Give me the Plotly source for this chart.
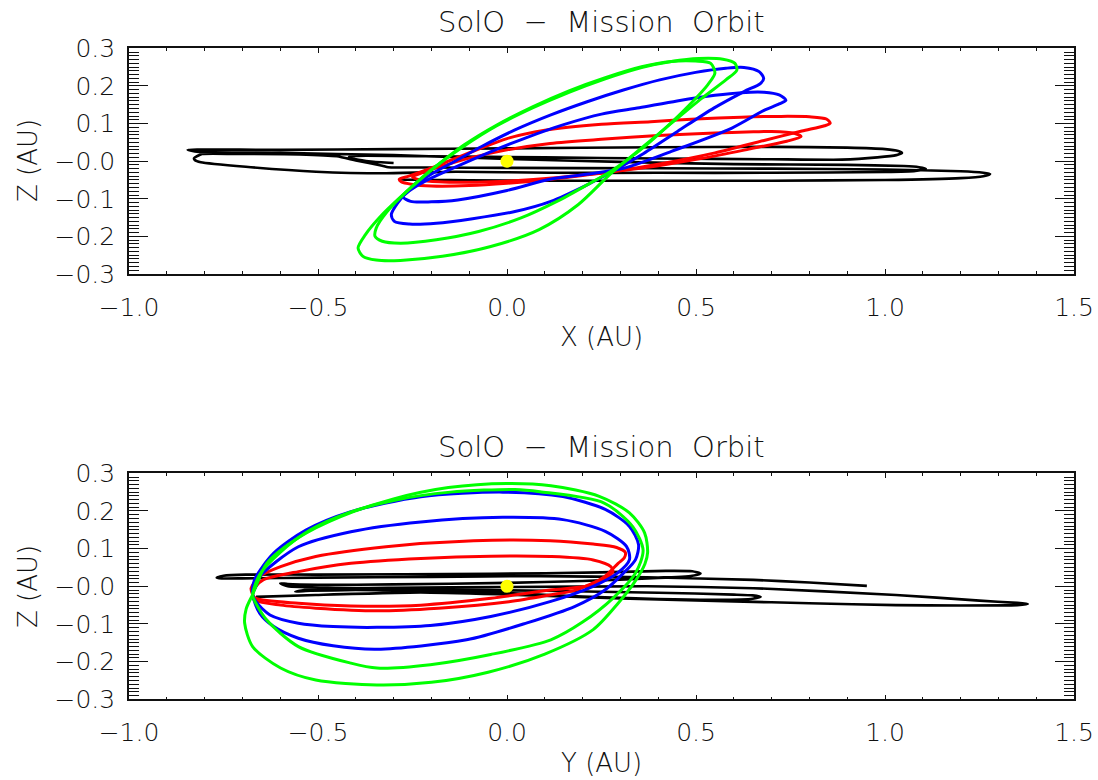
import plotly.graph_objects as go

# ---------------- data (AU) ----------------
# Top panel: X-Z projection
top_black_x = [-0.30, -0.36, -0.40, -0.418, -0.40, -0.2, 0.1, 0.4, 0.7, 0.886, 0.98, 1.03, 1.045,
               1.035, 1.0, 0.9, 0.7, 0.4, 0.0, -0.3, -0.6, -0.82, -0.845,
               -0.82, -0.6, -0.3, 0.0, 0.3, 0.6, 0.9, 1.05, 1.09, 1.108,
               1.08, 1.0, 0.7, 0.4, 0.114, -0.135, -0.32, -0.505, -0.691, -0.81, -0.826, -0.828,
               -0.807, -0.7, -0.55, -0.45, -0.40, -0.33, -0.314, -0.2, 0.0, 0.4, 0.7, 1.0, 1.2, 1.26, 1.278,
               1.26, 1.2, 1.0, 0.7, 0.4, 0.1, -0.1, -0.2, -0.27, -0.285]
top_black_z = [-0.005, -0.001, 0.005, 0.011, 0.014, 0.013, 0.010, 0.007, 0.005, 0.004, 0.010, 0.016, 0.022,
               0.027, 0.032, 0.036, 0.038, 0.037, 0.034, 0.032, 0.030, 0.031, 0.030,
               0.025, 0.022, 0.016, 0.006, -0.002, -0.008, -0.010, -0.013, -0.016, -0.020,
               -0.026, -0.029, -0.031, -0.031, -0.031, -0.028, -0.032, -0.028, -0.015, -0.003, 0.003, 0.008,
               0.019, 0.019, 0.018, 0.013, 0.002, -0.012, -0.016, -0.017, -0.018, -0.019, -0.020, -0.022, -0.027, -0.031, -0.034,
               -0.040, -0.045, -0.050, -0.052, -0.052, -0.052, -0.051, -0.050, -0.049, -0.048]

top_red1_x = [-0.285, -0.28, -0.25, -0.20, -0.10, 0.0, 0.10, 0.20, 0.276, 0.40, 0.55, 0.68, 0.78, 0.84, 0.855,
              0.845, 0.80, 0.72, 0.62, 0.50, 0.38, 0.25, 0.10, 0.0, -0.08, -0.15, -0.21, -0.26, -0.285]
top_red1_z = [-0.048, -0.055, -0.062, -0.066, -0.065, -0.059, -0.050, -0.038, -0.028, -0.008, 0.022, 0.055, 0.080, 0.094, 0.101,
              0.112, 0.118, 0.119, 0.117, 0.112, 0.105, 0.098, 0.082, 0.060, 0.030, 0.002, -0.022, -0.040, -0.048]
top_red2_x = [-0.25, -0.23, -0.18, -0.08, 0.02, 0.12, 0.20, 0.276, 0.40, 0.52, 0.64, 0.74, 0.778,
              0.76, 0.70, 0.652, 0.55, 0.40, 0.25, 0.114, 0.0, -0.10, -0.18, -0.23, -0.25]
top_red2_z = [-0.042, -0.050, -0.055, -0.056, -0.052, -0.045, -0.037, -0.028, -0.012, 0.008, 0.032, 0.053, 0.065,
              0.074, 0.079, 0.078, 0.075, 0.068, 0.058, 0.047, 0.030, 0.008, -0.016, -0.033, -0.042]

top_blue1_x = [0.679, 0.667, 0.627, 0.579, 0.499, 0.404, 0.308, 0.212, 0.116, 0.021, -0.067, -0.139, -0.203, -0.258, -0.290,
               -0.306, -0.298, -0.258, -0.187, -0.091, 0.021, 0.116, 0.212, 0.276, 0.356, 0.451, 0.547, 0.627, 0.671, 0.679]
top_blue1_z = [0.220, 0.238, 0.249, 0.247, 0.236, 0.216, 0.189, 0.158, 0.123, 0.083, 0.039, -0.001, -0.036, -0.076, -0.112,
               -0.142, -0.160, -0.167, -0.165, -0.153, -0.134, -0.107, -0.063, -0.029, 0.017, 0.079, 0.141, 0.185, 0.207, 0.220]
top_blue2_x = [0.738, 0.72, 0.68, 0.62, 0.55, 0.45, 0.35, 0.25, 0.15, 0.05, -0.05, -0.15, -0.22, -0.26, -0.275,
               -0.255, -0.20, -0.13, 0.0, 0.114, 0.21, 0.308, 0.435, 0.595, 0.68, 0.72, 0.738]
top_blue2_z = [0.162, 0.176, 0.183, 0.182, 0.175, 0.160, 0.142, 0.125, 0.097, 0.062, 0.022, -0.022, -0.055, -0.080, -0.095,
               -0.107, -0.108, -0.103, -0.078, -0.048, -0.035, -0.019, 0.026, 0.088, 0.135, 0.152, 0.162]

top_green1_x = [0.603, 0.571, 0.507, 0.435, 0.356, 0.260, 0.164, 0.069, -0.027, -0.115, -0.195, -0.266, -0.330, -0.375, -0.394,
                -0.381, -0.346, -0.282, -0.171, -0.043, 0.085, 0.188, 0.276, 0.356, 0.435, 0.515, 0.579, 0.608, 0.603]
top_green1_z = [0.260, 0.271, 0.273, 0.265, 0.249, 0.219, 0.183, 0.142, 0.094, 0.039, -0.019, -0.081, -0.142, -0.196, -0.231,
                -0.253, -0.263, -0.264, -0.253, -0.227, -0.182, -0.116, -0.032, 0.035, 0.101, 0.167, 0.216, 0.242, 0.260]
top_green2_x = [0.539, 0.499, 0.435, 0.356, 0.260, 0.164, 0.069, -0.027, -0.115, -0.199, -0.266, -0.317, -0.346, -0.349,
                -0.330, -0.282, -0.187, -0.075, 0.037, 0.132, 0.212, 0.276, 0.348, 0.419, 0.483, 0.531, 0.550, 0.539]
top_green2_z = [0.260, 0.266, 0.265, 0.251, 0.222, 0.187, 0.145, 0.096, 0.042, -0.023, -0.081, -0.134, -0.178, -0.200,
                -0.213, -0.218, -0.209, -0.187, -0.151, -0.107, -0.063, -0.026, 0.026, 0.088, 0.150, 0.203, 0.234, 0.260]

# Bottom panel: Y-Z projection
bot_black_y = [0.952, 0.80, 0.652, 0.37, 0.087, -0.2, -0.5, -0.70, -0.755, -0.768,
               -0.75, -0.691, -0.506, -0.042, 0.25, 0.42, 0.49, 0.512,
               0.49, 0.40, 0.2, 0.0, -0.3, -0.5, -0.58, -0.60,
               -0.58, -0.45, -0.2, 0.1, 0.4, 0.6, 0.65, 0.671,
               0.65, 0.558, 0.4, 0.2, 0.0, -0.2, -0.4, -0.52, -0.56,
               -0.52, -0.3, 0.0, 0.37, 0.652, 1.029, 1.25, 1.35, 1.378,
               1.35, 1.2, 1.029, 0.8, 0.6, 0.3, 0.0, -0.228, -0.506, -0.664]
bot_black_z = [0.001, 0.010, 0.017, 0.024, 0.027, 0.025, 0.023, 0.021, 0.021, 0.023,
               0.028, 0.031, 0.031, 0.033, 0.037, 0.041, 0.040, 0.034,
               0.028, 0.022, 0.014, 0.009, 0.005, 0.004, 0.006, 0.008,
               0.0, -0.004, -0.008, -0.012, -0.017, -0.022, -0.024, -0.028,
               -0.033, -0.036, -0.034, -0.027, -0.018, -0.012, -0.010, -0.012, -0.014,
               -0.008, -0.004, -0.002, 0.000, -0.005, -0.023, -0.038, -0.044, -0.047,
               -0.050, -0.051, -0.050, -0.045, -0.040, -0.032, -0.022, -0.016, -0.023, -0.028]

bot_red1_y = [-0.673, -0.677, -0.654, -0.599, -0.506, -0.320, -0.088, 0.114, 0.228, 0.290, 0.313, 0.310, 0.294, 0.257,
              0.182, 0.114, 0.005, -0.181, -0.344, -0.506, -0.599, -0.669, -0.673]
bot_red1_z = [-0.022, -0.005, 0.026, 0.052, 0.079, 0.105, 0.121, 0.121, 0.112, 0.103, 0.090, 0.075, 0.061, 0.025,
              -0.010, -0.023, -0.041, -0.058, -0.065, -0.058, -0.050, -0.036, -0.022]
bot_red2_y = [-0.673, -0.664, -0.645, -0.552, -0.413, -0.228, -0.042, 0.114, 0.228, 0.275, 0.280, 0.266, 0.22,
              0.114, -0.042, -0.228, -0.413, -0.552, -0.664, -0.673]
bot_red2_z = [-0.022, 0.0, 0.017, 0.039, 0.061, 0.074, 0.080, 0.079, 0.070, 0.052, 0.038, 0.025, 0.002,
              -0.010, -0.032, -0.050, -0.052, -0.045, -0.032, -0.022]

bot_blue1_y = [-0.673, -0.668, -0.617, -0.532, -0.413, -0.228, -0.011, 0.148, 0.260, 0.324, 0.348, 0.340, 0.308, 0.260,
               0.180, 0.053, -0.107, -0.344, -0.460, -0.552, -0.617, -0.654, -0.673]
bot_blue1_z = [-0.022, 0.017, 0.088, 0.149, 0.198, 0.238, 0.250, 0.238, 0.204, 0.159, 0.111, 0.071, 0.035, -0.009,
               -0.053, -0.097, -0.142, -0.167, -0.158, -0.138, -0.107, -0.072, -0.022]
bot_blue2_y = [-0.673, -0.664, -0.654, -0.552, -0.413, -0.228, -0.011, 0.148, 0.260, 0.316, 0.324, 0.292, 0.228,
               0.116, -0.043, -0.203, -0.344, -0.460, -0.552, -0.627, -0.664, -0.673]
bot_blue2_z = [-0.022, 0.0, 0.026, 0.105, 0.145, 0.171, 0.183, 0.177, 0.146, 0.106, 0.071, 0.035, 0.0,
               -0.040, -0.080, -0.104, -0.109, -0.107, -0.098, -0.076, -0.041, -0.022]

bot_green1_y = [-0.673, -0.636, -0.55, -0.44, -0.30, -0.155, 0.0, 0.116, 0.244, 0.324, 0.364, 0.372, 0.365, 0.34,
                0.294, 0.228, 0.10, -0.05, -0.2, -0.344, -0.506, -0.599, -0.673, -0.694, -0.69, -0.673]
bot_green1_z = [-0.022, 0.06, 0.13, 0.185, 0.232, 0.262, 0.273, 0.267, 0.239, 0.195, 0.142, 0.09, 0.06, 0.015,
                -0.045, -0.115, -0.180, -0.228, -0.255, -0.262, -0.249, -0.217, -0.160, -0.098, -0.06, -0.022]
bot_green2_y = [-0.673, -0.655, -0.60, -0.52, -0.42, -0.30, -0.15, 0.021, 0.087, 0.257, 0.333, 0.360, 0.340, 0.28,
                0.20, 0.116, -0.043, -0.203, -0.344, -0.413, -0.552, -0.636, -0.669, -0.673]
bot_green2_z = [-0.022, 0.03, 0.09, 0.15, 0.195, 0.228, 0.250, 0.257, 0.251, 0.221, 0.158, 0.096, 0.035, -0.032,
                -0.095, -0.142, -0.181, -0.208, -0.217, -0.204, -0.160, -0.089, -0.036, -0.022]

sun_pos = [0.0]

x_tickvals = [-1.0, -0.5, 0.0, 0.5, 1.0, 1.5]
x_ticktext = ["\u22121.0", "\u22120.5", "0.0", "0.5", "1.0", "1.5"]
z_tickvals = [-0.3, -0.2, -0.1, 0.0, 0.1, 0.2, 0.3]
z_ticktext = ["\u22120.3", "\u22120.2", "\u22120.1", "\u22120.0", "0.1", "0.2", "0.3"]

title_text = "SolO\u00a0\u00a0\u2212\u00a0\u00a0Mission\u00a0\u00a0Orbit"

# ---------------- figure ----------------
FONT = "DejaVu Sans"
WT = 200
TXT = "#111111"
fig = go.Figure()


def join(a, b):
    return a + [None] + b


def add_path(xs, ys, color, xa, ya, width=3.0, smooth=0.8):
    fig.add_trace(go.Scatter(x=xs, y=ys, mode="lines", xaxis=xa, yaxis=ya, connectgaps=False,
                             line=dict(color=color, width=width, shape="spline", smoothing=smooth),
                             showlegend=False, hoverinfo="skip"))


# top
add_path(top_black_x, top_black_z, "black", "x", "y", 2.6, 0.5)
add_path(join(top_red1_x, top_red2_x), join(top_red1_z, top_red2_z), "#ff0000", "x", "y")
add_path(join(top_blue1_x, top_blue2_x), join(top_blue1_z, top_blue2_z), "#0000ff", "x", "y")
add_path(join(top_green1_x, top_green2_x), join(top_green1_z, top_green2_z), "#00ff00", "x", "y")
fig.add_trace(go.Scatter(x=sun_pos, y=sun_pos, mode="markers", xaxis="x", yaxis="y",
                         marker=dict(color="#ffff00", size=13, line=dict(width=0)), showlegend=False))
# bottom
add_path(bot_black_y, bot_black_z, "black", "x2", "y2", 2.6, 0.5)
add_path(join(bot_red1_y, bot_red2_y), join(bot_red1_z, bot_red2_z), "#ff0000", "x2", "y2")
add_path(join(bot_blue1_y, bot_blue2_y), join(bot_blue1_z, bot_blue2_z), "#0000ff", "x2", "y2")
add_path(join(bot_green1_y, bot_green2_y), join(bot_green1_z, bot_green2_z), "#00ff00", "x2", "y2")
fig.add_trace(go.Scatter(x=sun_pos, y=sun_pos, mode="markers", xaxis="x2", yaxis="y2",
                         marker=dict(color="#ffff00", size=13, line=dict(width=0)), showlegend=False))

W, H = 1098, 780
xdom = [129 / W, 1074 / W]
ydom_top = [1 - 274 / H, 1 - 48.3 / H]
ydom_bot = [1 - 699.3 / H, 1 - 473.3 / H]

tickfont = dict(family=FONT, size=25, color=TXT, weight=WT)


def xax(anchor):
    return dict(domain=xdom, anchor=anchor, range=[-1.0, 1.5], tickmode="array", automargin=False,
                tickvals=x_tickvals, ticktext=x_ticktext, ticks="inside", ticklen=5, tickwidth=1.3,
                tickcolor=TXT, minor=dict(tickmode="linear", tick0=0, dtick=0.1, ticks="inside",
                                          ticklen=3, tickwidth=1.1, tickcolor=TXT),
                showline=True, linecolor=TXT, linewidth=1.6, mirror="ticks", showgrid=False,
                zeroline=False, tickfont=tickfont, ticklabelstandoff=10)


def yax(anchor, dom):
    return dict(domain=dom, anchor=anchor, range=[-0.3, 0.3], tickmode="array", automargin=False,
                tickvals=z_tickvals, ticktext=z_ticktext, ticks="inside", ticklen=19, tickwidth=1.3,
                tickcolor=TXT, minor=dict(tickmode="linear", tick0=0, dtick=0.01, ticks="inside",
                                          ticklen=10, tickwidth=1.1, tickcolor=TXT),
                showline=True, linecolor=TXT, linewidth=1.6, mirror="ticks", showgrid=False,
                zeroline=False, tickfont=tickfont, ticklabelstandoff=7)


annfont = dict(family=FONT, size=26, color=TXT, weight=WT)
titlefont = dict(family=FONT, size=29, color=TXT, weight=WT)
cx = (xdom[0] + xdom[1]) / 2
annotations = [
    dict(text=title_text, x=cx, y=1 - 22 / H, xref="paper", yref="paper", showarrow=False,
         xanchor="center", yanchor="middle", font=titlefont),
    dict(text=title_text, x=cx, y=1 - 447.5 / H, xref="paper", yref="paper", showarrow=False,
         xanchor="center", yanchor="middle", font=titlefont),
    dict(text="X (AU)", x=cx, y=1 - 337 / H, xref="paper", yref="paper", showarrow=False,
         xanchor="center", yanchor="middle", font=annfont),
    dict(text="Y (AU)", x=cx, y=1 - 763 / H, xref="paper", yref="paper", showarrow=False,
         xanchor="center", yanchor="middle", font=annfont),
    dict(text="Z (AU)", x=28 / W, y=1 - 161 / H, xref="paper", yref="paper", showarrow=False,
         xanchor="center", yanchor="middle", textangle=-90, font=annfont),
    dict(text="Z (AU)", x=28 / W, y=1 - 587 / H, xref="paper", yref="paper", showarrow=False,
         xanchor="center", yanchor="middle", textangle=-90, font=annfont),
]

fig.update_layout(
    width=W, height=H, margin=dict(l=0, r=0, t=0, b=0),
    paper_bgcolor="white", plot_bgcolor="white", showlegend=False,
    xaxis=xax("y"), yaxis=yax("x", ydom_top),
    xaxis2=xax("y2"), yaxis2=yax("x2", ydom_bot),
    annotations=annotations,
)

fig.write_html("out.html")
